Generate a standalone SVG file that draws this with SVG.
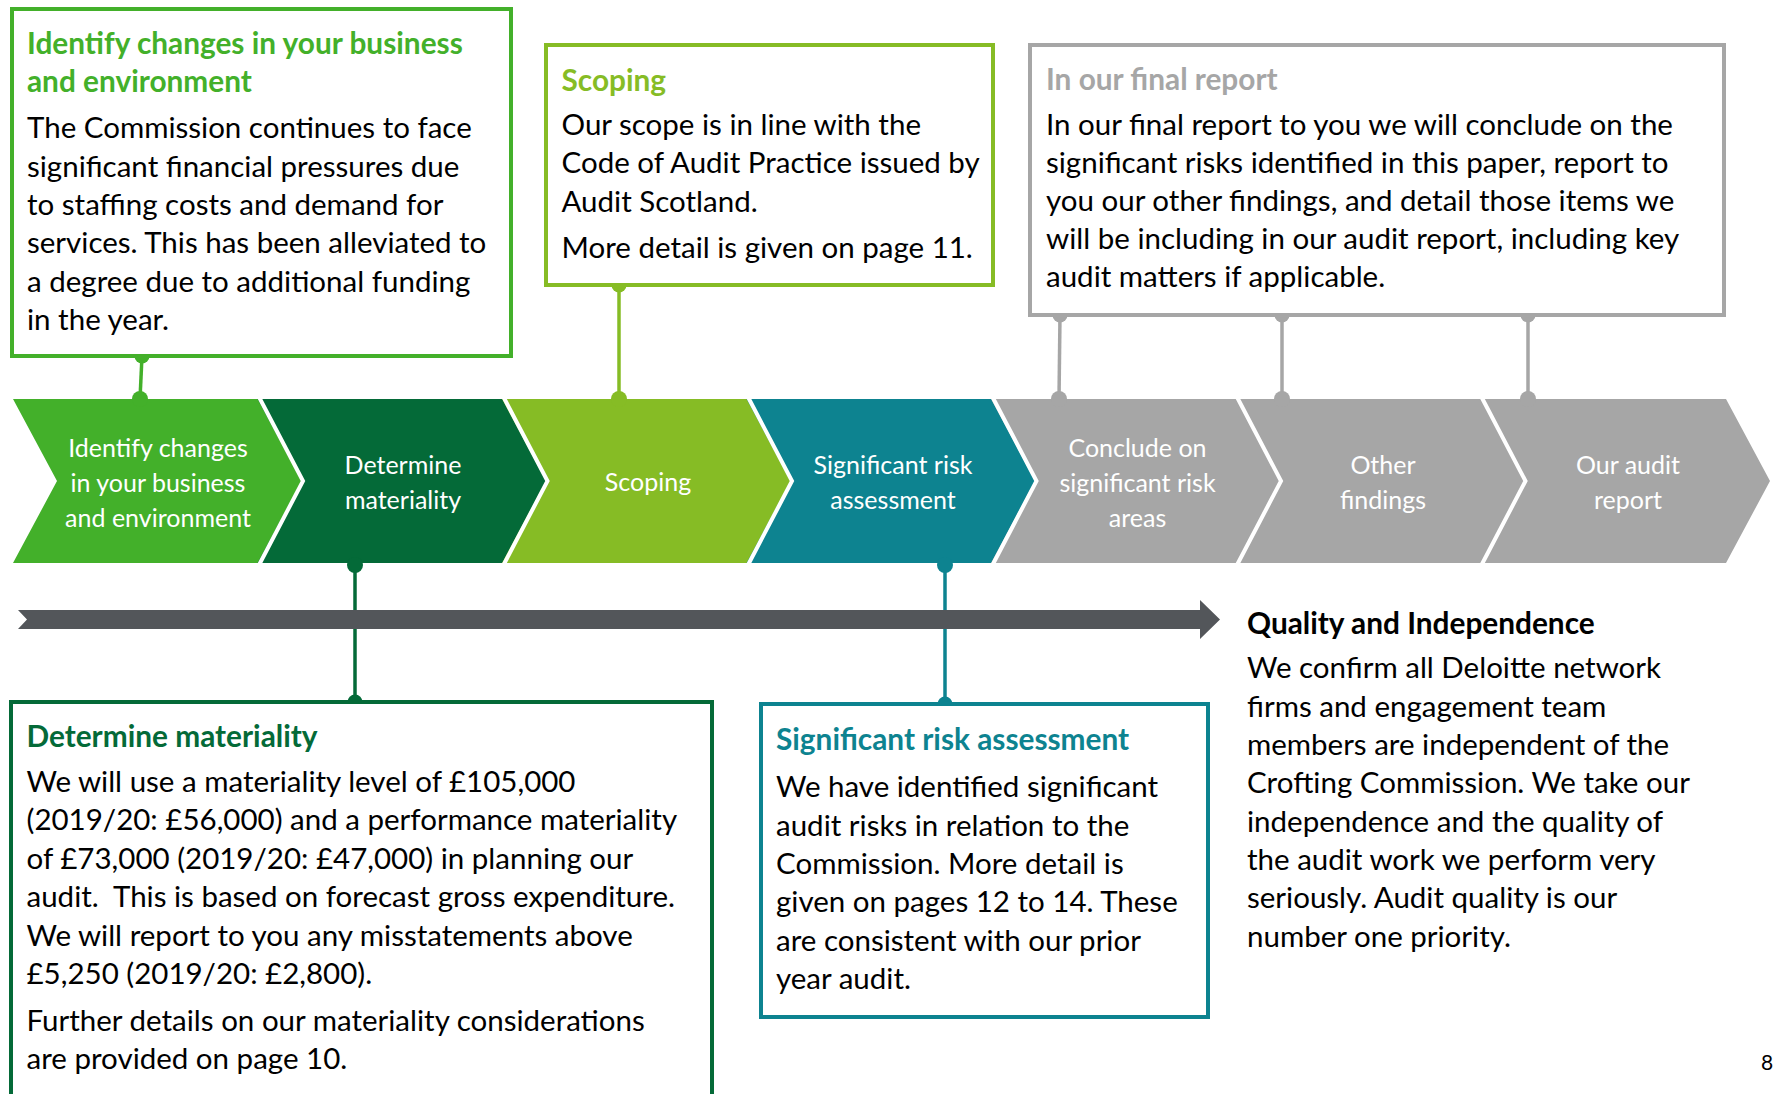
<svg xmlns="http://www.w3.org/2000/svg" width="1773" height="1094" viewBox="0 0 1773 1094">
<style>
text{font-family:Lato,"Open Sans","Liberation Sans",sans-serif;}
.body{font-size:29.5px;fill:#000;}
.ttl{font-size:29.8px;font-weight:bold;}
.chv{font-size:25px;fill:#fff;text-anchor:middle;}
.box{fill:#fff;stroke-width:4;}
.sep{fill:none;stroke:#fff;stroke-width:4;}
</style>
<rect width="1773" height="1094" fill="#fff"/>

<!-- connectors -->
<g id="connectors" stroke-width="3.5">
  <line x1="142" y1="356" x2="140" y2="399" stroke="#43B02A"/>
  <line x1="619" y1="285" x2="619" y2="399" stroke="#86BC25"/>
  <line x1="1060" y1="315" x2="1059" y2="399" stroke="#A6A6A6"/>
  <line x1="1282" y1="315" x2="1282" y2="399" stroke="#A6A6A6"/>
  <line x1="1528" y1="315" x2="1528" y2="399" stroke="#A6A6A6"/>
  <line x1="355" y1="565" x2="355" y2="702" stroke="#046A38"/>
  <line x1="945" y1="565" x2="945" y2="704" stroke="#0D8390"/>
</g>

<!-- timeline arrow -->
<g id="timeline">
  <polygon points="18,610 1200,610 1200,600 1220,619.5 1200,639 1200,629 18,629 27,619.5" fill="#53565A"/>
</g>

<!-- chevrons -->
<g id="chevron-1">
  <polygon points="13,399 259,399 303,481 259,563 13,563 57,481" fill="#43B02A"/>
  <text class="chv" x="158" y="457">Identify changes</text>
  <text class="chv" x="158" y="492">in your business</text>
  <text class="chv" x="158" y="527">and environment</text>
</g>
<g id="chevron-2">
  <polygon points="257.5,399 503.5,399 547.5,481 503.5,563 257.5,563 301.5,481" fill="#046A38"/>
  <text class="chv" x="403" y="474">Determine</text>
  <text class="chv" x="403" y="509">materiality</text>
</g>
<g id="chevron-3">
  <polygon points="502,399 748,399 792,481 748,563 502,563 546,481" fill="#86BC25"/>
  <text class="chv" x="648" y="491">Scoping</text>
</g>
<g id="chevron-4">
  <polygon points="746.5,399 992.5,399 1036.5,481 992.5,563 746.5,563 790.5,481" fill="#0D8390"/>
  <text class="chv" x="893" y="474">Significant risk</text>
  <text class="chv" x="893" y="509">assessment</text>
</g>
<g id="chevron-5">
  <polygon points="991,399 1237,399 1281,481 1237,563 991,563 1035,481" fill="#A6A6A6"/>
  <text class="chv" x="1137.5" y="457">Conclude on</text>
  <text class="chv" x="1137.5" y="492">significant risk</text>
  <text class="chv" x="1137.5" y="527">areas</text>
</g>
<g id="chevron-6">
  <polygon points="1235.5,399 1481.5,399 1525.5,481 1481.5,563 1235.5,563 1279.5,481" fill="#A6A6A6"/>
  <text class="chv" x="1383" y="474">Other</text>
  <text class="chv" x="1383" y="509">findings</text>
</g>
<g id="chevron-7">
  <polygon points="1480,399 1726,399 1770,481 1726,563 1480,563 1524,481" fill="#A6A6A6"/>
  <text class="chv" x="1628" y="474">Our audit</text>
  <text class="chv" x="1628" y="509">report</text>
</g>
<g id="chevron-separators">
  <polyline class="sep" points="259,397 303,481 259,565"/>
  <polyline class="sep" points="503.5,397 547.5,481 503.5,565"/>
  <polyline class="sep" points="748,397 792,481 748,565"/>
  <polyline class="sep" points="992.5,397 1036.5,481 992.5,565"/>
  <polyline class="sep" points="1237,397 1281,481 1237,565"/>
  <polyline class="sep" points="1481.5,397 1525.5,481 1481.5,565"/>
</g>

<!-- connector dots -->
<g id="connector-dots">
  <circle cx="142" cy="356" r="7.5" fill="#43B02A"/>
  <circle cx="140" cy="399" r="8" fill="#43B02A"/>
  <circle cx="619" cy="285" r="7.5" fill="#86BC25"/>
  <circle cx="619" cy="399" r="8" fill="#86BC25"/>
  <circle cx="1060" cy="315" r="7.5" fill="#A6A6A6"/>
  <circle cx="1059" cy="399" r="8" fill="#A6A6A6"/>
  <circle cx="1282" cy="315" r="7.5" fill="#A6A6A6"/>
  <circle cx="1282" cy="399" r="8" fill="#A6A6A6"/>
  <circle cx="1528" cy="315" r="7.5" fill="#A6A6A6"/>
  <circle cx="1528" cy="399" r="8" fill="#A6A6A6"/>
  <circle cx="355" cy="565" r="8" fill="#046A38"/>
  <circle cx="355" cy="702" r="7.5" fill="#046A38"/>
  <circle cx="945" cy="565" r="8" fill="#0D8390"/>
  <circle cx="945" cy="704" r="7.5" fill="#0D8390"/>
</g>

<!-- boxes -->
<g id="box-identify">
  <rect class="box" x="12" y="9" width="499" height="347" stroke="#43B02A"/>
  <text class="ttl" fill="#43B02A" x="27" y="54">Identify changes in your business</text>
  <text class="ttl" fill="#43B02A" x="27" y="92">and environment</text>
  <text class="body" x="27" y="138">The Commission continues to face</text>
  <text class="body" x="27" y="176.5">significant financial pressures due</text>
  <text class="body" x="27" y="215">to staffing costs and demand for</text>
  <text class="body" x="27" y="253">services. This has been alleviated to</text>
  <text class="body" x="27" y="291.5">a degree due to additional funding</text>
  <text class="body" x="27" y="330">in the year.</text>
</g>
<g id="box-scoping">
  <rect class="box" x="546" y="45" width="447" height="240" stroke="#86BC25"/>
  <text class="ttl" fill="#86BC25" x="561.5" y="90.5">Scoping</text>
  <text class="body" x="561.5" y="135">Our scope is in line with the</text>
  <text class="body" x="561.5" y="173.3">Code of Audit Practice issued by</text>
  <text class="body" x="561.5" y="211.7">Audit Scotland.</text>
  <text class="body" x="561.5" y="258.3">More detail is given on page 11.</text>
</g>
<g id="box-final-report">
  <rect class="box" x="1030" y="45" width="694" height="270" stroke="#A6A6A6"/>
  <text class="ttl" fill="#A6A6A6" x="1046" y="89.5">In our final report</text>
  <text class="body" x="1046" y="135">In our final report to you we will conclude on the</text>
  <text class="body" x="1046" y="173">significant risks identified in this paper, report to</text>
  <text class="body" x="1046" y="211">you our other findings, and detail those items we</text>
  <text class="body" x="1046" y="249">will be including in our audit report, including key</text>
  <text class="body" x="1046" y="287">audit matters if applicable.</text>
</g>
<g id="box-materiality">
  <rect class="box" x="11" y="702" width="701" height="420" stroke="#046A38"/>
  <text class="ttl" fill="#046A38" x="26.5" y="747">Determine materiality</text>
  <text class="body" x="26.5" y="791.5">We will use a materiality level of £105,000</text>
  <text class="body" x="26.5" y="830">(2019/20: £56,000) and a performance materiality</text>
  <text class="body" x="26.5" y="868.5">of £73,000 (2019/20: £47,000) in planning our</text>
  <text class="body" x="26.5" y="906.8" xml:space="preserve">audit.  This is based on forecast gross expenditure.</text>
  <text class="body" x="26.5" y="945.5">We will report to you any misstatements above</text>
  <text class="body" x="26.5" y="984">£5,250 (2019/20: £2,800).</text>
  <text class="body" x="26.5" y="1031">Further details on our materiality considerations</text>
  <text class="body" x="26.5" y="1069">are provided on page 10.</text>
</g>
<g id="box-significant-risk">
  <rect class="box" x="761" y="704" width="447" height="313" stroke="#0D8390"/>
  <text class="ttl" fill="#0D8390" x="776" y="750">Significant risk assessment</text>
  <text class="body" x="776" y="797">We have identified significant</text>
  <text class="body" x="776" y="835.5">audit risks in relation to the</text>
  <text class="body" x="776" y="873.5">Commission. More detail is</text>
  <text class="body" x="776" y="912">given on pages 12 to 14. These</text>
  <text class="body" x="776" y="950.5">are consistent with our prior</text>
  <text class="body" x="776" y="989">year audit.</text>
</g>
<g id="quality-independence">
  <text class="ttl" fill="#000" x="1247" y="634">Quality and Independence</text>
  <text class="body" x="1247" y="678">We confirm all Deloitte network</text>
  <text class="body" x="1247" y="716.5">firms and engagement team</text>
  <text class="body" x="1247" y="755">members are independent of the</text>
  <text class="body" x="1247" y="793">Crofting Commission. We take our</text>
  <text class="body" x="1247" y="831.5">independence and the quality of</text>
  <text class="body" x="1247" y="870">the audit work we perform very</text>
  <text class="body" x="1247" y="908">seriously. Audit quality is our</text>
  <text class="body" x="1247" y="946.5">number one priority.</text>
</g>
<g id="page-number">
  <text x="1761" y="1070" font-size="21" fill="#000">8</text>
</g>
</svg>
